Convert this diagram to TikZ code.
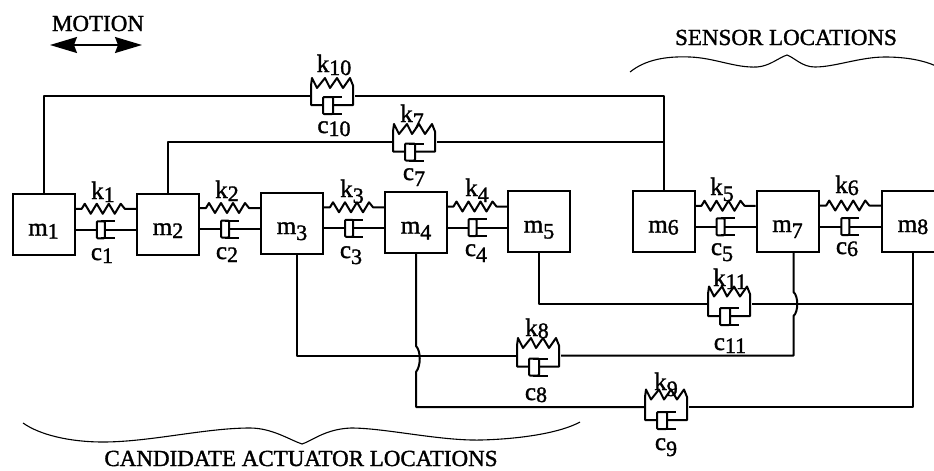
\documentclass[tikz,border=0pt]{standalone}
\usepackage{fontspec}
\setmainfont{Liberation Serif}
\newfontfamily\heavy{Liberation Serif}[FakeBold=1.4]
\usetikzlibrary{calc,arrows.meta}
\newcommand{\lab}[2]{#1\lower\ifcase#2 3\or 3\or 3\or 6\or 6\or 6\or 2\or 6\or 2\or 6\else 3\fi pt\hbox{\fontsize{22}{22}\selectfont #2}}
\newcommand{\mlab}[1]{\raisebox{-11pt}[0pt][0pt]{\lab{m}{#1}}}
\tikzset{
  mass/.style={draw,line width=2pt,minimum width=62pt,minimum height=61pt,inner sep=0pt,font=\fontsize{25}{25}\heavy},
  conn/.style={line width=2pt,line join=round},
  thinline/.style={line width=1.1pt},
  lbl/.style={anchor=base,inner sep=0pt,font=\fontsize{25}{25}\heavy},
  captxt/.style={anchor=base,inner sep=0pt,font=\fontsize{23}{23}\heavy},
}
% spring and damper in series between two masses
\newcommand{\slink}[2]{%
  \coordinate (s) at ($(#1.east)!.5!(#2.west)$);
  \coordinate (ss) at ($(s)+(0,-15.5)$);
  \coordinate (dd) at ($(s)+(0,5.5)$);
  \draw[conn] (#1.east|-ss) -- ($(ss)+(-24,0)$) -- ++(3,-5) -- ++(6,10) -- ++(6,-10) -- ++(6,10) -- ++(6,-10) -- ++(6,10) -- ++(6,-10) -- ++(4,5) -- (#2.west|-ss);
  \draw[conn] (#1.east|-dd) -- ($(dd)+(-9,0)$);
  \draw[conn] ($(dd)+(-1,0)$) -- (#2.west|-dd);
  \draw[conn,rounded corners=1pt] ($(dd)+(-9,-8.5)$) rectangle ($(dd)+(-1,8.5)$);
  \draw[conn] ($(dd)+(-5,-8.5)$) -- ($(dd)+(9,-8.5)$) ($(dd)+(-5,8.5)$) -- ($(dd)+(9,8.5)$);
}
% parallel spring and damper on a long connector: #1 name, #2 x, #3 y, #4 damper offset
\newcommand{\unit}[4]{%
  \coordinate (#1l) at (#2-21,#3);
  \coordinate (#1r) at (#2+23,#3);
  \draw[conn] (#2-9,#3+#4) -- (#2-21,#3+#4) -- (#2-21,#3-10) -- (#2-20,#3-17.5) -- (#2-15,#3-7.5) -- (#2-7,#3-17.5) -- (#2-2,#3-7.5) -- (#2+5,#3-17.5) -- (#2+11,#3-7.5) -- (#2+18,#3-17.5) -- (#2+21,#3-10) -- (#2+21,#3+#4) -- (#2+1,#3+#4);
  \draw[conn,rounded corners=1pt] (#2-9,#3+#4-8) rectangle (#2+1,#3+#4+9);
  \draw[conn] (#2-5,#3+#4-8) -- (#2+10,#3+#4-8) (#2-5,#3+#4+9) -- (#2+10,#3+#4+9);
}
\begin{document}
\begin{tikzpicture}[x=1pt,y=-1pt]
\useasboundingbox (0,0) rectangle (934,471);
\clip (0,0) rectangle (934,471);
\fill[white] (0,0) rectangle (934,471);

\node[mass] (m1) at (43.5,224.5) {\mlab{1}};
\node[mass] (m2) at (168,224) {\mlab{2}};
\node[mass] (m3) at (292,223) {\mlab{3}};
\node[mass] (m4) at (416,222.5) {\mlab{4}};
\node[mass] (m5) at (539,221.5) {\mlab{5}};
\node[mass] (m6) at (663.5,221.5) {\mlab{6}};
\node[mass] (m7) at (787.5,221) {\mlab{7}};
\node[mass] (m8) at (913,221) {\mlab{8}};

\slink{m1}{m2}\slink{m2}{m3}\slink{m3}{m4}\slink{m4}{m5}\slink{m6}{m7}\slink{m7}{m8}

\unit{ua}{332}{95.5}{9.5}
\unit{ub}{414}{141.5}{10}
\unit{uc}{538}{355.5}{11}
\unit{ud}{666}{407}{13}
\unit{ue}{729}{304}{12}

\draw[conn] (m1.north) |- (ual);
\draw[conn] (uar) -| (m6.north);
\draw[conn] (m2.north) |- (ubl);
\draw[conn] (ubr) -- (ubr-|m6.north);
\draw[conn] ($(m3.south)+(5,0)$) |- (ucl);
\draw[conn] (ucr) -- (793.5,355.5) -- (793.5,316) .. controls (798.5,312) and (798.5,296) .. (793.5,292) -- ($(m7.south)+(6,0)$);
\draw[conn] (m4.south) -- (416,346) .. controls (421,351) and (421,366) .. (416,372) |- (udl);
\draw[conn] (udr) -| (m8.south);
\draw[conn] (m5.south) |- (uel);
\draw[conn] (uer) -- (uer-|m8.south);

% MOTION
\coordinate (al) at (50,45);
\coordinate (ar) at (142,45);
\draw[line width=1.5pt,{Stealth[length=27pt,width=16pt,inset=3pt]}-{Stealth[length=27pt,width=16pt,inset=3pt]}] (al) -- (ar);
\node[captxt] (tm) at (98,31) {MOTION};
\node[captxt] (ts) at (786,45) {SENSOR LOCATIONS};
\node[captxt] (tc) at (301,466) {CANDIDATE ACTUATOR LOCATIONS};

% braces
\draw[thinline] (630,72) .. controls (645,60) and (665,56) .. (690,57) .. controls (715,58) and (735,68) .. (757,67) .. controls (770,66) and (778,58) .. (787,55) .. controls (795,58) and (802,67) .. (815,67) .. controls (835,67) and (860,57) .. (885,57) .. controls (905,57) and (925,60) .. (940,68);
\draw[thinline] (23,423) .. controls (40,435) and (70,442) .. (103,442) .. controls (150,442) and (205,428) .. (250,428) .. controls (272,428) and (290,440) .. (302,444) .. controls (312,441) and (325,429) .. (351,428) .. controls (385,428) and (440,441) .. (481,440) .. controls (520,439) and (560,433) .. (580,422);

% labels
\node[lbl] (k1) at (103,199) {\lab{k}{1}};
\node[lbl] (c1) at (102,260) {\lab{c}{1}};
\node[lbl] (k2) at (227,198) {\lab{k}{2}};
\node[lbl] (c2) at (227,259) {\lab{c}{2}};
\node[lbl] (k3) at (352,197) {\lab{k}{3}};
\node[lbl] (c3) at (351,258) {\lab{c}{3}};
\node[lbl] (k4) at (477,196) {\lab{k}{4}};
\node[lbl] (c4) at (476,256) {\lab{c}{4}};
\node[lbl] (k5) at (722,195) {\lab{k}{5}};
\node[lbl] (c5) at (722,255) {\lab{c}{5}};
\node[lbl] (k6) at (847,193) {\lab{k}{6}};
\node[lbl] (c6) at (847,254) {\lab{c}{6}};
\node[lbl] (k7) at (412,122) {\lab{k}{7}};
\node[lbl] (c7) at (414,180) {\lab{c}{7}};
\node[lbl] (k8) at (537,336) {\lab{k}{8}};
\node[lbl] (c8) at (536,400) {\lab{c}{8}};
\node[lbl] (k9) at (666,390) {\lab{k}{9}};
\node[lbl] (c9) at (666,450) {\lab{c}{9}};
\node[lbl] (k10) at (334,72) {\lab{k}{10}};
\node[lbl] (c10) at (334,133) {\lab{c}{10}};
\node[lbl] (k11) at (730,286) {\lab{k}{11}};
\node[lbl] (c11) at (730,350) {\lab{c}{11}};
\end{tikzpicture}
\end{document}
